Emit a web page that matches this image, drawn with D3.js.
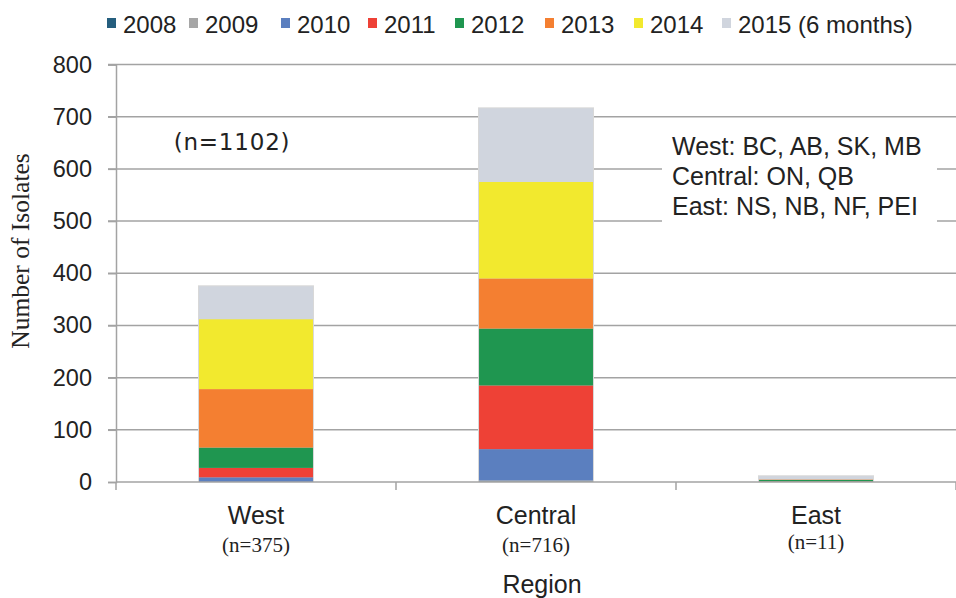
<!DOCTYPE html>
<html><head><meta charset="utf-8">
<script src="https://cdn.jsdelivr.net/npm/d3@7"></script>
<style>body{margin:0;background:#fff}svg{display:block}</style>
</head><body>
<svg id="c" width="956" height="598"></svg>
<script>
const regions = ["West", "Central", "East"];
const regionN = ["(n=375)", "(n=716)", "(n=11)"];
const years = ["2008", "2009", "2010", "2011", "2012", "2013", "2014", "2015 (6 months)"];
const colors = ["#255e7e", "#a6a6a6", "#5b7fbf", "#ee4136", "#1f9650", "#f47f31", "#f2e92e", "#d0d5de"];
const v2008 = [0, 1, 0];
const v2009 = [0, 2, 0];
const v2010 = [9, 60, 0];
const v2011 = [18, 122, 1];
const v2012 = [39, 109, 3];
const v2013 = [112, 96, 1];
const v2014 = [134, 185, 0];
const v2015 = [63, 141, 6];
const yTicks = [0, 100, 200, 300, 400, 500, 600, 700, 800];
const notes = ["West: BC, AB, SK, MB", "Central: ON, QB", "East: NS, NB, NF, PEI"];
const totalLabel = "(n=1102)";

const series = [v2008, v2009, v2010, v2011, v2012, v2013, v2014, v2015];
const rows = regions.map((r, i) => {
  const o = {region: r};
  years.forEach((y, k) => o[y] = series[k][i]);
  return o;
});
const stacked = d3.stack().keys(years)(rows);

const svg = d3.select("#c");
const L = 116, R = 956, T = 64.5, B = 482;
const SANS = "Liberation Sans, Arial, sans-serif";
const SERIF = "Liberation Serif, Times New Roman, serif";
const x = d3.scaleBand().domain(regions).range([L, R]).paddingInner(0.593).paddingOuter(0.2965);
const y = d3.scaleLinear().domain([0, 800]).range([B, T]);

// gridlines
svg.append("g").selectAll("line").data(yTicks.filter(t => t > 0)).join("line")
  .attr("x1", L - 8).attr("x2", R).attr("y1", d => y(d)).attr("y2", d => y(d))
  .attr("stroke", "#a3a3a3").attr("stroke-width", 1.5);

// y axis
const yAxis = svg.append("g").attr("transform", `translate(${L},0)`)
  .call(d3.axisLeft(y).tickValues(yTicks).tickSize(8).tickPadding(16));
yAxis.select(".domain").attr("stroke", "#a3a3a3").attr("stroke-width", 1.5);
yAxis.selectAll(".tick line").attr("stroke", "#a3a3a3").attr("stroke-width", 1.5);
yAxis.selectAll("text").attr("font-family", SANS).attr("font-size", 23.5).attr("fill", "#222");

// note box (covers gridlines)
svg.append("rect").attr("x", 662).attr("y", 124).attr("width", 275).attr("height", 116).attr("fill", "#fff");
svg.append("g").selectAll("text").data(notes).join("text")
  .attr("x", 672).attr("y", (d, i) => 155 + i * 30)
  .attr("font-family", SANS).attr("font-size", 25).attr("fill", "#222")
  .text(d => d);

svg.append("text").attr("x", 232).attr("y", 150).attr("text-anchor", "middle")
  .attr("font-family", "DejaVu Sans, Verdana, sans-serif").attr("font-size", 23).attr("fill", "#222")
  .attr("letter-spacing", 0.8)
  .text(totalLabel);

// bars
const bars = svg.append("g");
bars.selectAll("rect.shadow").data(rows).join("rect").attr("class", "shadow")
  .attr("x", d => x(d.region) - 1).attr("width", x.bandwidth() + 2)
  .attr("y", (d, i) => y(stacked[stacked.length - 1][i][1]) - 1)
  .attr("height", (d, i) => B - y(stacked[stacked.length - 1][i][1]) + 1)
  .attr("fill", "#d8d8d8");
stacked.forEach((s, k) => {
  bars.append("g").attr("fill", colors[k]).selectAll("rect").data(s).join("rect")
    .attr("x", d => x(d.data.region)).attr("width", x.bandwidth())
    .attr("y", d => y(d[1])).attr("height", d => y(d[0]) - y(d[1]));
});

// x axis
const step = x.step();
svg.append("line").attr("x1", L).attr("x2", R).attr("y1", B).attr("y2", B)
  .attr("stroke", "#a3a3a3").attr("stroke-width", 1.5);
svg.append("g").selectAll("line").data(regions.concat(["_end"])).join("line")
  .attr("x1", (d, i) => L + i * step).attr("x2", (d, i) => L + i * step)
  .attr("y1", B).attr("y2", B + 8).attr("stroke", "#a3a3a3").attr("stroke-width", 1.5);

const xl = svg.append("g");
xl.selectAll("text.cat").data(regions).join("text").attr("class", "cat")
  .attr("x", d => x(d) + x.bandwidth() / 2).attr("y", 524).attr("text-anchor", "middle")
  .attr("font-family", SANS).attr("font-size", 25).attr("fill", "#222")
  .text(d => d);
xl.selectAll("text.n").data(regionN).join("text").attr("class", "n")
  .attr("x", (d, i) => x(regions[i]) + x.bandwidth() / 2).attr("y", (d, i) => i === 2 ? 549 : 552)
  .attr("text-anchor", "middle")
  .attr("font-family", SERIF).attr("font-size", 21).attr("fill", "#222")
  .text(d => d);

svg.append("text").attr("x", 542).attr("y", 593).attr("text-anchor", "middle")
  .attr("font-family", SANS).attr("font-size", 25).attr("fill", "#222")
  .text("Region");

svg.append("text").attr("transform", "translate(29,251) rotate(-90)").attr("text-anchor", "middle")
  .attr("font-family", SERIF).attr("font-size", 25.5).attr("fill", "#222")
  .text("Number of Isolates");

// legend
const legX = [107, 189, 281, 368, 455, 545, 634, 722];
const leg = svg.append("g");
years.forEach((yr, k) => {
  leg.append("rect").attr("x", legX[k]).attr("y", 18).attr("width", 9).attr("height", 10).attr("fill", colors[k]);
  leg.append("text").attr("x", legX[k] + 16).attr("y", 33)
    .attr("font-family", SANS).attr("font-size", 24).attr("fill", "#222")
    .text(yr);
});
</script>
</body></html>
